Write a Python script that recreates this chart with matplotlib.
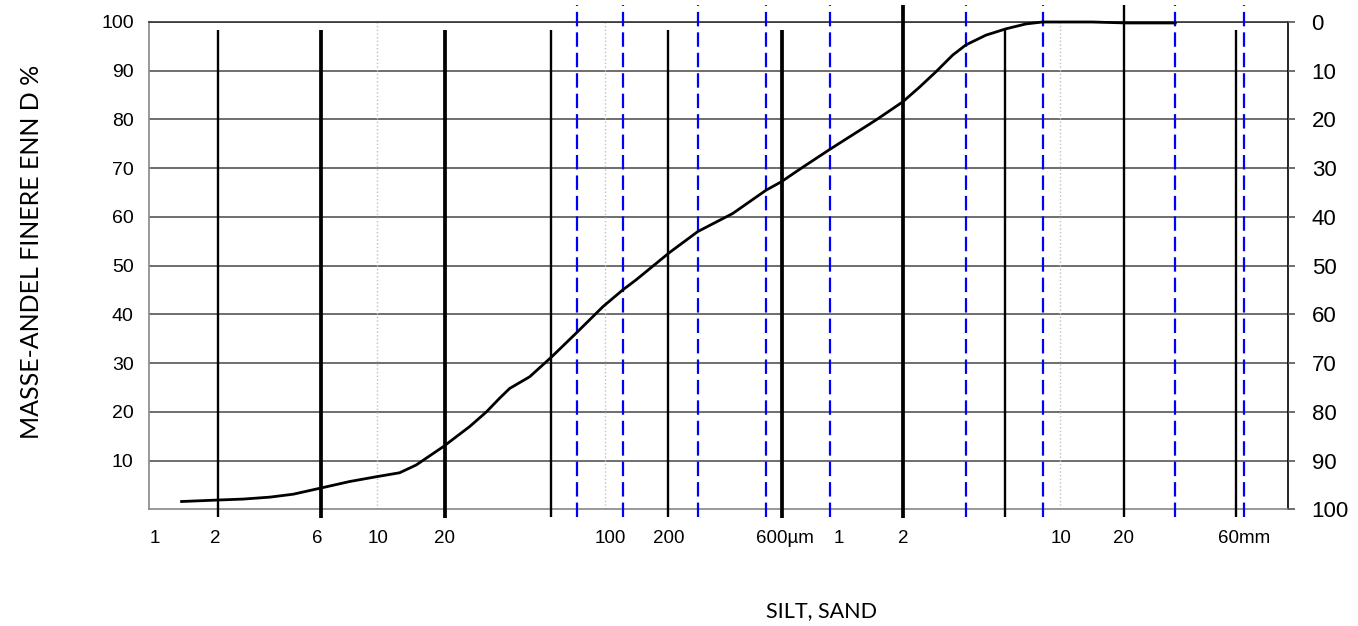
import matplotlib
matplotlib.use("Agg")
import matplotlib.pyplot as plt

# grain size (µm) vs mass percent finer
size_um = [1.39, 2.0, 2.6, 3.4, 4.3, 5.6, 7.6, 10, 12.6, 14.9, 19.5, 25.6, 30.3, 34.6,
           38.3, 46.9, 58.3, 75.2, 98.4, 120, 137.6, 192.8, 256.6, 365, 512, 596, 741,
           977, 1555, 2034, 2408, 2850, 3371, 3855, 4721, 5780, 7068, 8360, 13800, 19600, 32000]
finer_pct = [1.6, 1.9, 2.1, 2.5, 3.1, 4.3, 5.7, 6.7, 7.5, 9.1, 12.8, 17.0, 20.0, 22.8,
             24.8, 27.2, 31.2, 36.2, 41.6, 45.0, 47.1, 52.7, 57.0, 60.7, 65.5, 67.2, 70.2,
             73.9, 79.9, 83.6, 86.6, 89.8, 93.2, 95.3, 97.3, 98.6, 99.6, 100, 100, 99.8, 99.8]

# fraction boundaries (black) and sieve sizes (blue dashed), µm
thick_lines = [5.7, 20, 600, 2050]
thin_lines = [2.0, 58, 190, 5700, 19000, 59000]
tall_lines = [2050, 19000]
sieves = [75.4, 120.8, 257.6, 512, 980, 3871, 8362, 31860, 63950]
decades = [10, 100, 10000]

xtick_pos = [1.06, 1.95, 5.5, 10.1, 19.9, 106, 192, 620, 1070, 2050, 10050, 19000, 64000]
xtick_lab = ["1", "2", "6", "10", "20", "100", "200", "600µm", "1", "2", "10", "20", "60mm"]
left_ticks = [10, 20, 30, 40, 50, 60, 70, 80, 90, 100]
right_ticks = [0, 10, 20, 30, 40, 50, 60, 70, 80, 90, 100]

plt.rcParams['font.family'] = ['Liberation Sans', 'DejaVu Sans']

fig = plt.figure(figsize=(13.58, 6.26), dpi=100)
ax = fig.add_axes([149/1358, 1-509.3/626, (1288-149)/1358, (509.3-22)/626])
ax.set_xscale('log')
ax.set_xlim(1, 100000)
ax.set_ylim(0, 100)

ax.set_yticks(left_ticks)
ax.yaxis.grid(True, color='#555555', lw=1.2)
ax.set_axisbelow(True)
ax.tick_params(axis='y', length=0, pad=11, labelsize=14)
ax.set_xticks(xtick_pos)
ax.set_xticklabels(xtick_lab)
ax.xaxis.set_minor_locator(matplotlib.ticker.NullLocator())
ax.tick_params(axis='x', length=0, pad=15, labelsize=13.5)

ax.spines['left'].set_color('#888888')
ax.spines['bottom'].set_color('#888888')
ax.spines['top'].set_color('#333333')
ax.spines['right'].set_color('black')
for s in ax.spines.values():
    s.set_linewidth(1.2)

for d in decades:
    ax.axvline(d, color='#c0c0c0', lw=1, ls=':', zorder=1)

for d in thin_lines:
    top = 103.5 if d in tall_lines else 98.4
    ax.vlines(d, -1.6, top, color='black', lw=1.7, clip_on=False, zorder=3)
for d in thick_lines:
    top = 103.5 if d in tall_lines else 98.4
    ax.vlines(d, -1.8, top, color='black', lw=2.7, clip_on=False, zorder=3)
ax.vlines(sieves, -1.6, 103.5, color='#0000ff', lw=1.6, linestyles=(0, (6.5, 2.7)),
          clip_on=False, zorder=4)

ax.plot(size_um, finer_pct, color='black', lw=2, zorder=5, clip_on=False,
        solid_joinstyle='round')

ax2 = ax.twinx()
ax2.set_ylim(100, 0)
ax2.set_yticks(right_ticks)
ax2.tick_params(axis='y', length=5, width=1.2, color='#555555', pad=12, labelsize=16)
for s in ax2.spines.values():
    s.set_visible(False)

fig.text(32/1358, 1-252/626, "MASSE-ANDEL FINERE ENN D %", rotation=90, ha='center',
         va='center', fontsize=18, family=['Lato', 'DejaVu Sans'])
fig.text(821/1358, 1-611/626, "SILT, SAND", ha='center', va='center', fontsize=15.5,
         family=['Lato', 'DejaVu Sans'])

fig.savefig("out.png", dpi=100)
